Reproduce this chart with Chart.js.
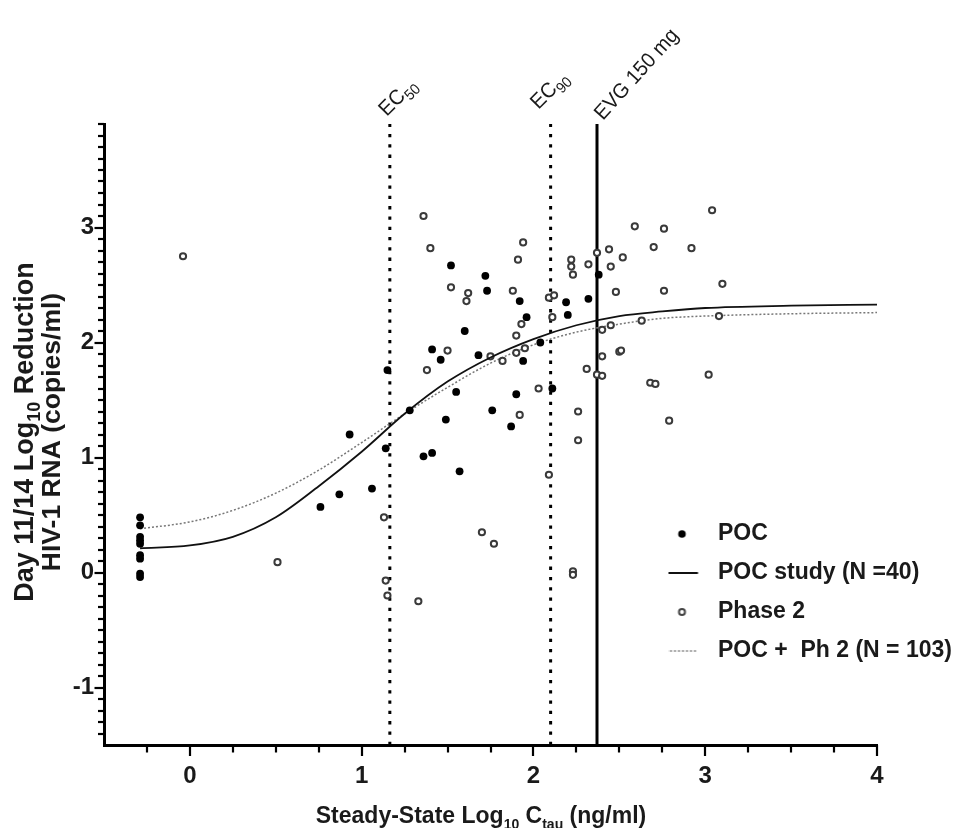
<!DOCTYPE html>
<html><head><meta charset="utf-8">
<script src="https://cdn.jsdelivr.net/npm/chart.js@4.4.1/dist/chart.umd.min.js"></script>
<style>html,body{margin:0;padding:0;background:#fff;}#wrap{width:955px;height:828px;}</style>
</head><body><div id="wrap"><canvas id="c" width="955" height="828"></canvas></div>
<script>
// ---- data ----
const pocX = [-0.29,-0.29,-0.29,-0.29,-0.29,-0.29,-0.29,-0.29,-0.29,
  0.76,0.87,0.93,1.06,1.14,1.15,1.28,1.36,1.41,1.41,1.46,1.49,1.52,1.55,1.57,1.60,1.68,1.72,1.73,1.76,
  1.87,1.90,1.92,1.94,1.96,2.04,2.11,2.19,2.20,2.32,2.38];
const pocY = [0.48,0.41,0.31,0.28,0.25,0.15,0.12,-0.01,-0.04,
  0.57,0.68,1.20,0.73,1.08,1.76,1.41,1.01,1.04,1.94,1.85,1.33,2.67,1.57,0.88,2.10,1.89,2.58,2.45,1.41,
  1.27,1.55,2.36,1.84,2.22,2.00,1.60,2.35,2.24,2.38,2.59];
const ph2X = [-0.04,0.51,1.13,1.14,1.15,1.33,1.36,1.38,1.40,1.50,1.52,1.61,1.62,1.70,1.75,1.77,1.82,1.88,1.90,1.90,
  1.91,1.92,1.93,1.94,1.95,2.03,2.09,2.09,2.11,2.12,2.22,2.22,2.23,2.23,2.23,2.26,2.26,2.31,2.32,2.37,
  2.37,2.40,2.40,2.40,2.44,2.45,2.45,2.48,2.50,2.51,2.52,2.59,2.63,2.68,2.70,2.71,2.76,2.76,2.79,2.92,
  3.02,3.04,3.08,3.10];
const ph2Y = [2.75,0.09,0.48,-0.07,-0.20,-0.25,3.10,1.76,2.82,1.93,2.48,2.36,2.43,0.35,1.88,0.25,1.84,2.45,2.06,1.91,
  2.72,1.37,2.16,2.87,1.95,1.60,0.85,2.39,2.22,2.41,2.72,2.66,2.59,0.01,-0.02,1.40,1.15,1.77,2.68,2.78,
  1.72,2.11,1.88,1.71,2.81,2.66,2.15,2.44,1.92,1.93,2.74,3.01,2.19,1.65,2.83,1.64,2.99,2.45,1.32,2.82,
  1.72,3.15,2.23,2.51];
const fitX     = [-0.29,0,0.25,0.5,0.75,1,1.25,1.5,1.75,2,2.25,2.5,2.75,3,3.5,4];
const pocFitY  = [0.21,0.235,0.31,0.48,0.75,1.05,1.38,1.66,1.87,2.03,2.15,2.23,2.27,2.30,2.32,2.33];
const combFitY = [0.38,0.44,0.54,0.69,0.89,1.13,1.38,1.61,1.82,1.98,2.09,2.16,2.21,2.23,2.25,2.26];
const refLineX = [1.164, 2.10, 2.37];
const refLineLabels = [['EC','50'],['EC','90'],['EVG 150 mg','']];
const legendLabels = ['POC','POC study (N =40)','Phase 2','POC +  Ph 2 (N = 103)'];
const xTickValues = [0,1,2,3,4];
const yTickValues = [-1,0,1,2,3];
const xMin = -0.5, xMax = 4, yMin = -1.5, yMax = 3.9;

const FONT = "'Liberation Sans', Arial, Helvetica, sans-serif";
const TXT = '#1a1a1a';

function icon(draw){
  const c = document.createElement('canvas'); c.width = 60; c.height = 14;
  const g = c.getContext('2d'); draw(g, 16.5, 7); return c;
}
const legendIcons = [
  icon((g,x,y)=>{g.fillStyle='#000';g.beginPath();g.arc(x,y,3.8,0,Math.PI*2);g.fill();}),
  icon((g,x,y)=>{g.strokeStyle='#111';g.lineWidth=1.8;g.beginPath();g.moveTo(x-16,y);g.lineTo(x+16,y);g.stroke();}),
  icon((g,x,y)=>{g.fillStyle='#fff';g.strokeStyle='#444';g.lineWidth=2;g.beginPath();g.arc(x,y,3,0,Math.PI*2);g.fill();g.stroke();}),
  icon((g,x,y)=>{g.strokeStyle='#777';g.lineWidth=1.5;g.setLineDash([2,2]);g.beginPath();g.moveTo(x-16,y);g.lineTo(x+16,y);g.stroke();})
];

function fontFor(size, weight, sub, subRatio){ return `${weight} ${sub ? Math.round(size*subRatio) : size}px ${FONT}`; }
function drawRich(ctx, parts, x, y, size, weight, align, subRatio){
  subRatio = subRatio || 0.62;
  let w = 0;
  for (const [t, sub] of parts){ ctx.font = fontFor(size, weight, sub, subRatio); w += ctx.measureText(t).width; }
  let cx = align === 'center' ? x - w/2 : x;
  for (const [t, sub] of parts){
    ctx.font = fontFor(size, weight, sub, subRatio);
    ctx.fillText(t, cx, sub ? y + size*0.25 : y);
    cx += ctx.measureText(t).width;
  }
}

const decor = {
  id: 'decor',
  afterLayout(chart){
    const lg = chart.legend;
    lg.left = 668.5; lg.top = 506.5; lg.right = 955; lg.bottom = 700;
    lg.width = lg.right - lg.left; lg.height = lg.bottom - lg.top;
  },
  afterDraw(chart){
    const ctx = chart.ctx, xs = chart.scales.x, ys = chart.scales.y;
    const area = chart.chartArea;
    ctx.save();
    ctx.strokeStyle = '#000'; ctx.lineWidth = 2.2;
    for (let i = Math.round(yMin*10)+1; i <= Math.round(yMax*10); i++){
      const p = Math.round(ys.getPixelForValue(i/10));
      const major = i % 10 === 0;
      ctx.beginPath(); ctx.moveTo(area.left, p); ctx.lineTo(area.left - (major ? 9.5 : 6), p); ctx.stroke();
    }
    for (let i = Math.round(xMin*4)+1; i <= Math.round(xMax*4); i++){
      const p = Math.round(xs.getPixelForValue(i/4));
      const major = i % 4 === 0;
      ctx.beginPath(); ctx.moveTo(p, area.bottom); ctx.lineTo(p, area.bottom + (major ? 11 : 7.5)); ctx.stroke();
    }
    ctx.fillStyle = TXT; ctx.textBaseline = 'alphabetic';
    // x title
    drawRich(ctx, [['Steady-State Log',0],['10',1],[' C',0],['tau',1],[' (ng/ml)',0]], 481, 823, 23, 'bold', 'center');
    // y title
    ctx.save(); ctx.translate(33, 432); ctx.rotate(-Math.PI/2);
    drawRich(ctx, [['Day 11/14 Log',0],['10',1],[' Reduction',0]], 0, 0, 27, 'bold', 'center', 0.66);
    ctx.restore();
    ctx.save(); ctx.translate(60, 432); ctx.rotate(-Math.PI/2);
    drawRich(ctx, [['HIV-1 RNA (copies/ml)',0]], 0, 0, 26.5, 'bold', 'center');
    ctx.restore();
    // reference line labels
    const offs = [[-3, 117, -45], [-12, 110, -45], [6, 121, -48]];
    refLineX.forEach((v, i) => {
      const px = xs.getPixelForValue(v);
      ctx.save(); ctx.translate(px + offs[i][0], offs[i][1]); ctx.rotate(offs[i][2]*Math.PI/180); ctx.scale(0.95,1);
      const [main, sub] = refLineLabels[i];
      drawRich(ctx, sub ? [[main,0],[sub,1]] : [[main,0]], 0, 0, 21, 'normal', 'left', 0.7);
      ctx.restore();
    });
    ctx.restore();
  }
};

const pts = (xa, ya) => xa.map((x, i) => ({x, y: ya[i]}));

new Chart(document.getElementById('c'), {
  type: 'scatter',
  data: { datasets: [
    { label: legendLabels[0], data: pts(pocX, pocY), pointRadius: 3.9, pointBackgroundColor: '#000', pointBorderColor: '#000', pointBorderWidth: 0, pointHoverRadius: 3.9 },
    { type: 'line', label: legendLabels[1], data: pts(fitX, pocFitY), borderColor: '#111', borderWidth: 1.8, pointRadius: 0, fill: false, cubicInterpolationMode: 'monotone' },
    { label: legendLabels[2], data: pts(ph2X, ph2Y), pointRadius: 3.1, pointBackgroundColor: '#fff', pointBorderColor: '#3a3a3a', pointBorderWidth: 2, pointHoverRadius: 3.1 },
    { type: 'line', label: legendLabels[3], data: pts(fitX, combFitY), borderColor: '#777', borderWidth: 1.5, borderDash: [2,2], pointRadius: 0, fill: false, cubicInterpolationMode: 'monotone' },
    ...refLineX.map((v, i) => ({ type: 'line', label: 'ref' + i, data: [{x: v, y: yMin}, {x: v, y: yMax}],
      borderColor: '#000', borderWidth: 3, borderDash: i < 2 ? [3.3, 7] : [], pointRadius: 0, fill: false }))
  ]},
  options: {
    responsive: false, animation: false, events: [],
    layout: { padding: { top: 124, right: 78, left: 0, bottom: 0 } },
    scales: {
      x: { type: 'linear', min: xMin, max: xMax,
        afterFit(s){ s.height = 83; },
        afterBuildTicks(s){ s.ticks = xTickValues.map(v => ({value: v})); },
        grid: { display: false, drawTicks: false },
        border: { display: true, color: '#000', width: 3 },
        ticks: { padding: 17, color: TXT, font: { family: FONT, size: 24, weight: 'bold' } } },
      y: { type: 'linear', min: yMin, max: yMax,
        afterFit(s){ s.width = 104; },
        afterBuildTicks(s){ s.ticks = yTickValues.map(v => ({value: v})); },
        grid: { display: false, drawTicks: false },
        border: { display: true, color: '#000', width: 3 },
        ticks: { padding: 10, color: TXT, font: { family: FONT, size: 24, weight: 'bold' } } }
    },
    plugins: {
      tooltip: { enabled: false },
      legend: { position: 'chartArea', align: 'start',
        labels: { usePointStyle: true, boxWidth: 22, boxHeight: 22, padding: 16, color: TXT,
          font: { family: FONT, size: 23, weight: 'bold' },
          generateLabels(){ return legendLabels.map((t, i) => ({ text: t, pointStyle: legendIcons[i], fillStyle: '#000', strokeStyle: '#000', lineWidth: 0, hidden: false, datasetIndex: i, fontColor: TXT })); } } }
    }
  },
  plugins: [decor]
});
</script></body></html>
